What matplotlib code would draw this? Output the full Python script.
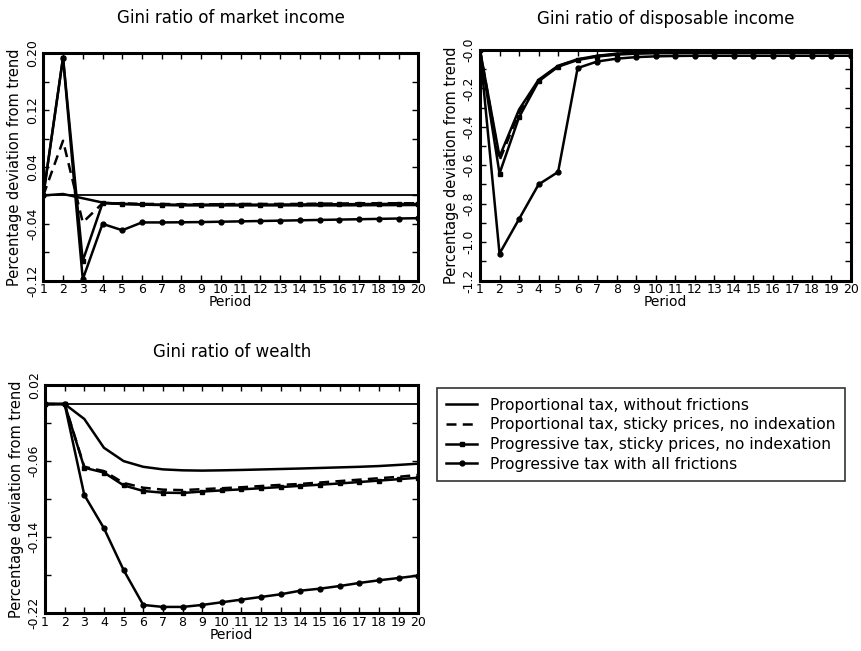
import matplotlib
matplotlib.use("Agg")
import matplotlib.pyplot as plt
from matplotlib.lines import Line2D
from matplotlib.legend_handler import HandlerLine2D

periods = list(range(1, 21))

# Gini ratio of market income
market_prop_nofric = [0, 0.002, -0.004, -0.010, -0.012, -0.013, -0.0135, -0.014, -0.014, -0.014,
                      -0.014, -0.014, -0.014, -0.014, -0.014, -0.014, -0.0138, -0.0137, -0.0136, -0.0135]
market_prop_sticky = [0, 0.077, -0.038, -0.011, -0.011, -0.012, -0.012, -0.0125, -0.0125, -0.0125,
                      -0.012, -0.012, -0.012, -0.012, -0.0115, -0.0115, -0.011, -0.011, -0.011, -0.011]
market_prog_sticky = [0, 0.194, -0.092, -0.011, -0.012, -0.0125, -0.013, -0.013, -0.013, -0.013,
                      -0.013, -0.013, -0.0128, -0.0127, -0.0125, -0.0124, -0.0122, -0.012, -0.012, -0.012]
market_prog_all = [0, 0.194, -0.118, -0.040, -0.049, -0.038, -0.038, -0.0378, -0.0375, -0.037,
                   -0.0365, -0.036, -0.0355, -0.035, -0.0345, -0.034, -0.0335, -0.033, -0.0325, -0.032]

# Gini ratio of disposable income
disp_prop_nofric = [0, -0.555, -0.31, -0.155, -0.082, -0.048, -0.030, -0.019, -0.013, -0.009,
                    -0.007, -0.006, -0.005, -0.005, -0.004, -0.004, -0.004, -0.004, -0.004, -0.004]
disp_prop_sticky = [0, -0.575, -0.325, -0.158, -0.084, -0.050, -0.032, -0.022, -0.016, -0.013,
                    -0.011, -0.010, -0.010, -0.009, -0.009, -0.009, -0.009, -0.009, -0.009, -0.009]
disp_prog_sticky = [0, -0.643, -0.35, -0.163, -0.087, -0.052, -0.034, -0.024, -0.019, -0.017,
                    -0.016, -0.015, -0.015, -0.015, -0.015, -0.015, -0.015, -0.015, -0.015, -0.015]
disp_prog_all = [0, -1.06, -0.88, -0.70, -0.635, -0.094, -0.060, -0.045, -0.037, -0.033,
                 -0.031, -0.030, -0.030, -0.030, -0.030, -0.030, -0.030, -0.030, -0.030, -0.030]

# Gini ratio of wealth
wealth_prop_nofric = [0, 0, -0.0157, -0.046, -0.060, -0.066, -0.0687, -0.0697, -0.070, -0.0697,
                      -0.0693, -0.0688, -0.0683, -0.0678, -0.0672, -0.0666, -0.066, -0.0652, -0.064, -0.0627]
wealth_prop_sticky = [0, 0, -0.066, -0.0705, -0.083, -0.088, -0.090, -0.0905, -0.0895, -0.0885,
                      -0.0875, -0.0862, -0.085, -0.084, -0.0825, -0.081, -0.0795, -0.078, -0.0765, -0.0745]
wealth_prog_sticky = [0, 0, -0.067, -0.072, -0.0855, -0.0914, -0.0932, -0.0935, -0.092, -0.0908,
                      -0.0897, -0.0885, -0.0873, -0.086, -0.0848, -0.0835, -0.082, -0.0805, -0.079, -0.0775]
wealth_prog_all = [0, 0, -0.0956, -0.1306, -0.1745, -0.2112, -0.2133, -0.2133, -0.2112, -0.2084,
                   -0.2056, -0.2028, -0.2, -0.1962, -0.1941, -0.1913, -0.1881, -0.1853, -0.1829, -0.1804]

series_labels = ["Proportional tax, without frictions",
                 "Proportional tax, sticky prices, no indexation",
                 "Progressive tax, sticky prices, no indexation",
                 "Progressive tax with all frictions"]

titles = ["Gini ratio of market income", "Gini ratio of disposable income", "Gini ratio of wealth"]
ylabel = "Percentage deviation from trend"
xlabel = "Period"

market_yticks = [-0.12, -0.08, -0.04, 0.0, 0.04, 0.08, 0.12, 0.16, 0.20]
market_yticklabels = ["-0.12", "", "-0.04", "", "0.04", "", "0.12", "", "0.20"]
disp_yticks = [-1.2, -1.1, -1.0, -0.9, -0.8, -0.7, -0.6, -0.5, -0.4, -0.3, -0.2, -0.1, 0.0]
disp_yticklabels = ["-1.2", "", "-1.0", "", "-0.8", "", "-0.6", "", "-0.4", "", "-0.2", "", "-0.0"]
wealth_yticks = [-0.22, -0.18, -0.14, -0.10, -0.06, -0.02, 0.02]
wealth_yticklabels = ["-0.22", "", "-0.14", "", "-0.06", "", "0.02"]

plt.rcParams['font.family'] = ['DejaVu Sans']

W, H = 861, 651
fig = plt.figure(figsize=(W / 100, H / 100), dpi=100)


def px_axes(x0, y0, x1, y1):
    return fig.add_axes([x0 / W, 1 - y1 / H, (x1 - x0) / W, (y1 - y0) / H])


styles = [dict(ls='-', marker=None),
          dict(ls='--', marker=None, dashes=(4, 2.5)),
          dict(ls='-', marker='s', ms=3.5),
          dict(ls='-', marker='o', ms=3.5)]


def draw(ax, data, yticks, yticklabels, ylim, title, title_pad):
    ax.axhline(0, color='black', lw=1.3, zorder=1)
    for d, st in zip(data, styles):
        kw = dict(color='black', lw=1.8)
        kw.update(st)
        ax.plot(periods, d, **kw)
    ax.set_xlim(1, 20)
    ax.set_ylim(*ylim)
    ax.set_xticks(periods)
    ax.set_xticklabels([str(p) for p in periods], fontsize=9)
    ax.set_yticks(yticks)
    ax.set_yticklabels(yticklabels, fontsize=9, rotation=90, va='center')
    ax.tick_params(direction='in', length=4, width=1, top=True, right=True, pad=3)
    ax.tick_params(axis='x', pad=2)
    for s in ax.spines.values():
        s.set_linewidth(2.2)
    ax.set_title(title, fontsize=12, pad=title_pad)
    ax.set_xlabel(xlabel, fontsize=10, labelpad=-1)
    ax.set_ylabel(ylabel, fontsize=10.5, labelpad=3)


ax1 = px_axes(43.3, 53.3, 418.3, 280.7)
draw(ax1, [market_prop_nofric, market_prop_sticky, market_prog_sticky, market_prog_all],
     market_yticks, market_yticklabels, (-0.12, 0.20), titles[0], 22)

ax2 = px_axes(480, 50, 851, 280.5)
draw(ax2, [disp_prop_nofric, disp_prop_sticky, disp_prog_sticky, disp_prog_all],
     disp_yticks, disp_yticklabels, (-1.2, 0.0), titles[1], 19)

ax3 = px_axes(45, 385, 418.3, 613.3)
draw(ax3, [wealth_prop_nofric, wealth_prop_sticky, wealth_prog_sticky, wealth_prog_all],
     wealth_yticks, wealth_yticklabels, (-0.22, 0.02), titles[2], 20)


class LeftMarkerHandler(HandlerLine2D):
    def get_xdata(self, legend, xdescent, ydescent, width, height, fontsize):
        xdata = [-xdescent, -xdescent + width]
        return xdata, [-xdescent]


handles = []
for st in styles:
    kw = dict(color='black', lw=1.8)
    kw.update(st)
    handles.append(Line2D([], [], **kw))
leg = fig.legend(handles, series_labels, loc='upper left',
                 bbox_to_anchor=(436.7 / W, 1 - 388.3 / H), fontsize=11.2,
                 frameon=True, fancybox=False, edgecolor='black', handlelength=2.0,
                 borderpad=0.6, labelspacing=0.3, handletextpad=0.8, numpoints=1,
                 borderaxespad=0,
                 handler_map={Line2D: LeftMarkerHandler(numpoints=1)})
leg.get_frame().set_linewidth(1.2)

fig.savefig("out.png", dpi=100)
